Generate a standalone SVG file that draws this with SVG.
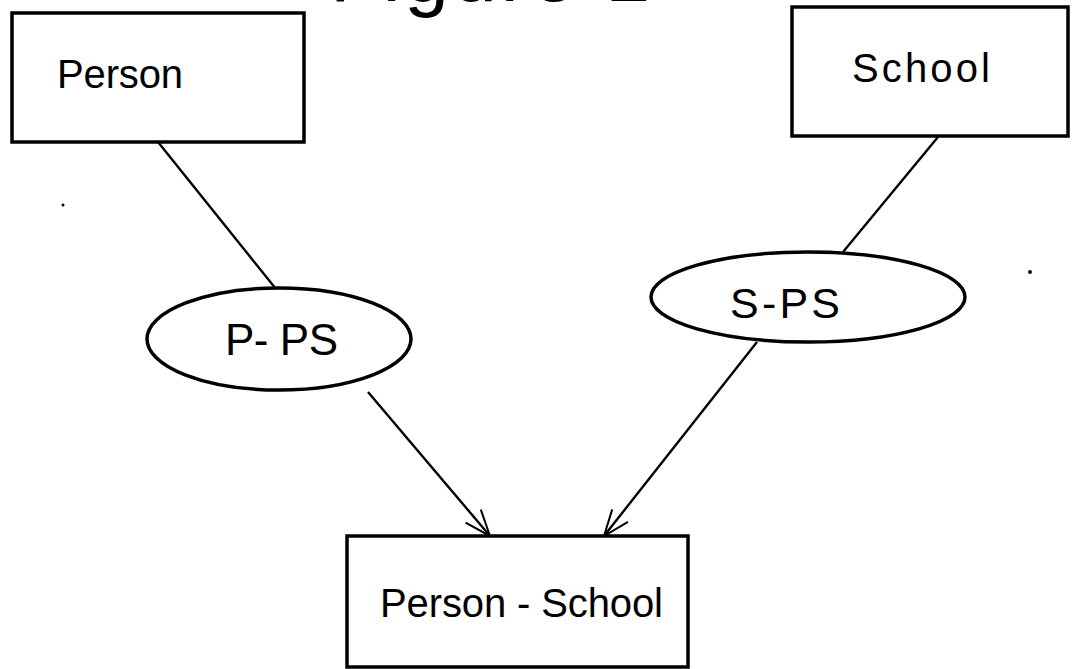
<svg xmlns="http://www.w3.org/2000/svg" width="1076" height="669" viewBox="0 0 1076 669">
<style>
.box{fill:#fff;stroke:#000;stroke-width:3.5}
.ell{fill:#fff;stroke:#000;stroke-width:3.5}
.con{fill:none;stroke:#000;stroke-width:2.4}
.lbl{font-family:"Liberation Sans",Arial,sans-serif;font-size:40px;fill:#000}
</style>
<defs>
<marker id="arr" viewBox="-30 -15 34 30" markerWidth="34" markerHeight="30" refX="0" refY="0" orient="auto" markerUnits="userSpaceOnUse">
<path d="M-26,-10 L0,0 L-26,10" fill="none" stroke="#000" stroke-width="2"/>
</marker>
</defs>
<rect width="1076" height="669" fill="#fff"/>
<text class="lbl" x="330" y="1" style="font-size:80px" textLength="320">Figure 1</text>
<g id="connectors">
<line class="con" x1="158" y1="142" x2="276" y2="289"/>
<line class="con" x1="938" y1="137" x2="843" y2="252"/>
<line class="con" x1="368" y1="392" x2="490" y2="536" marker-end="url(#arr)"/>
<line class="con" x1="757" y1="342" x2="604" y2="536" marker-end="url(#arr)"/>
</g>
<g id="person">
<rect class="box" x="12" y="13" width="292" height="129"/>
<text class="lbl" x="57" y="88" textLength="126">Person</text>
</g>
<g id="school">
<rect class="box" x="792" y="7" width="276" height="129"/>
<text class="lbl" x="852" y="82" textLength="138">School</text>
</g>
<g id="p-ps">
<ellipse class="ell" cx="279" cy="339" rx="132" ry="51"/>
<text class="lbl" x="225" y="355" style="font-size:44px" textLength="113">P- PS</text>
</g>
<g id="s-ps">
<ellipse class="ell" cx="808" cy="297" rx="157" ry="45"/>
<text class="lbl" x="730" y="318" style="font-size:43px" textLength="110">S-PS</text>
</g>
<g id="person-school">
<rect class="box" x="347" y="536" width="341" height="131"/>
<text class="lbl" x="380" y="617" textLength="283">Person - School</text>
</g>
<circle cx="63" cy="205" r="1.5" fill="#000"/>
<circle cx="1030" cy="272" r="2" fill="#000"/>
</svg>
